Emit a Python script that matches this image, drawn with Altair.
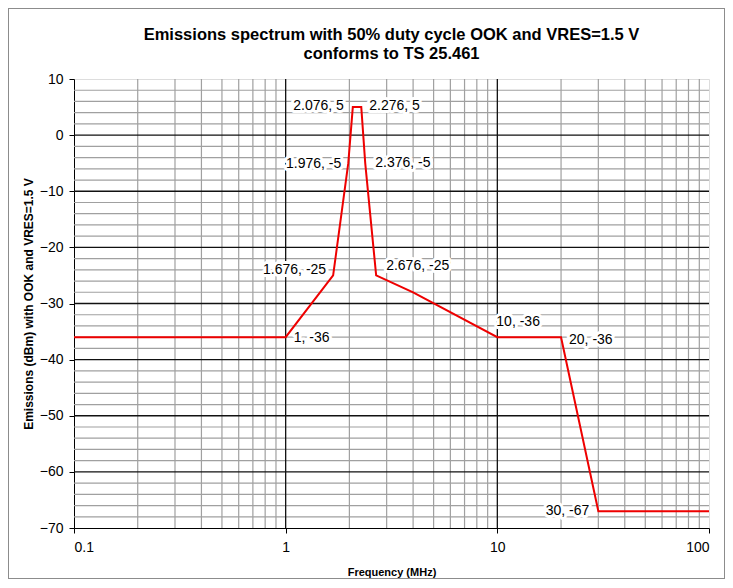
import altair as alt
import pandas as pd

# ---- data ----
freq = [0.1, 1, 1.676, 1.976, 2.076, 2.276, 2.376, 2.676, 4, 10, 20, 30, 100]
emis = [-36, -36, -25, -5, 5, 5, -5, -25, -28, -36, -36, -67, -67]
labels = ["", "1, -36", "1.676, -25", "1.976, -5", "2.076, 5", "2.276, 5",
          "2.376, -5", "2.676, -25", "", "10, -36", "20, -36", "30, -67", ""]

x_major = [1, 10]
x_minor = [0.2, 0.3, 0.4, 0.5, 0.6, 0.7, 0.8, 0.9,
           2, 3, 4, 5, 6, 7, 8, 9,
           20, 30, 40, 50, 60, 70, 80, 90]
y_major = [-60, -50, -40, -30, -20, -10, 0]
y_minor = [v for v in range(-68, 10, 2) if v % 10 != 0]
x_ticks = [0.1, 1, 10, 100]
y_ticks = [-70, -60, -50, -40, -30, -20, -10, 0, 10]

FONT = "Liberation Sans"
W, H = 635, 449
TICK_SIZE = 14

df = pd.DataFrame({"freq": freq, "emis": emis, "label": labels})

xscale = alt.Scale(type="log", domain=[0.1, 100], nice=False)
yscale = alt.Scale(domain=[-70, 10], nice=False, zero=False)

xenc = alt.X("freq:Q", scale=xscale,
             axis=alt.Axis(values=x_ticks, format="~g", grid=False,
                           title="Frequency (MHz)", domainColor="black",
                           tickColor="black", tickSize=5, labelPadding=7,
                           labelFontSize=TICK_SIZE,
                           titlePadding=12, titleFontSize=11))
yenc = alt.Y("emis:Q", scale=yscale,
             axis=alt.Axis(values=y_ticks, grid=False,
                           title="Emissions (dBm) with OOK and VRES=1.5 V",
                           domainColor="black", tickColor="black", tickSize=5,
                           labelPadding=6, labelFontSize=TICK_SIZE,
                           titlePadding=4, titleFontSize=12))

xminor_df = pd.DataFrame({"v": x_minor})
xmajor_df = pd.DataFrame({"v": x_major})
yminor_df = pd.DataFrame({"v": y_minor})
ymajor_df = pd.DataFrame({"v": y_major})

MINOR = "#a0a0a0"
gx_minor = alt.Chart(xminor_df).mark_rule(color=MINOR, strokeWidth=1.2).encode(
    x=alt.X("v:Q", scale=xscale))
gy_minor = alt.Chart(yminor_df).mark_rule(color=MINOR, strokeWidth=1.2).encode(
    y=alt.Y("v:Q", scale=yscale))
gx_major = alt.Chart(xmajor_df).mark_rule(color="#111111", strokeWidth=1.3).encode(
    x=alt.X("v:Q", scale=xscale))
gy_major = alt.Chart(ymajor_df).mark_rule(color="#111111", strokeWidth=1.3).encode(
    y=alt.Y("v:Q", scale=yscale))

line = alt.Chart(df).mark_line(color="#ee0000", strokeWidth=2).encode(
    x=xenc, y=yenc, order=alt.Order("freq:Q"))

# label placement (style only)
placement = {
    "1, -36": ("left", 8, 1),
    "1.676, -25": ("right", -7, -5),
    "1.976, -5": ("right", -7, 1),
    "2.076, 5": ("right", -9, -1),
    "2.276, 5": ("left", 8, -1),
    "2.376, -5": ("left", 10, 0),
    "2.676, -25": ("left", 10, -9),
    "10, -36": ("left", -1, -15),
    "20, -36": ("left", 8, 3),
    "30, -67": ("right", -9, 0),
}

LBL_SIZE = 14
label_layers = []
for lbl, (al, dx, dy) in placement.items():
    base = alt.Chart(df).transform_filter(alt.datum.label == lbl)
    halo = base.mark_text(align=al, baseline="middle", dx=dx, dy=dy, font=FONT,
                          fontSize=LBL_SIZE, stroke="white", strokeWidth=6,
                          fill="white", strokeJoin="round").encode(
        x=alt.X("freq:Q", scale=xscale), y=alt.Y("emis:Q", scale=yscale),
        text="label:N")
    txt = base.mark_text(align=al, baseline="middle", dx=dx, dy=dy, font=FONT,
                         fontSize=LBL_SIZE, color="black").encode(
        x=alt.X("freq:Q", scale=xscale), y=alt.Y("emis:Q", scale=yscale),
        text="label:N")
    label_layers += [halo, txt]

frame = alt.Chart(df).mark_rect(fill=None, stroke="#8c8c8c", strokeWidth=1,
                                clip=False).encode(
    x=alt.value(-65.5), x2=alt.value(W + 15.5),
    y=alt.value(-70.5), y2=alt.value(H + 50.5))

chart = alt.layer(gx_minor, gy_minor, gx_major, gy_major, line,
                  *label_layers, frame).properties(
    width=W, height=H,
    title=alt.TitleParams(
        ["Emissions spectrum with 50% duty cycle OOK and VRES=1.5 V",
         "conforms to TS 25.461"],
        font=FONT, fontSize=16.5, fontWeight="bold", color="black",
        anchor="middle", offset=-54, lineHeight=19),
    autosize=alt.AutoSizeParams(type="none"),
    padding={"left": 66, "top": 71, "right": 16, "bottom": 52},
).configure_view(stroke="#808080", strokeWidth=1).configure_axis(
    labelFont=FONT, labelColor="black",
    titleFont=FONT, titleFontWeight="bold", titleColor="black"
).configure(background="white")

chart.save("out.html", embed_options={"renderer": "svg", "actions": False})
